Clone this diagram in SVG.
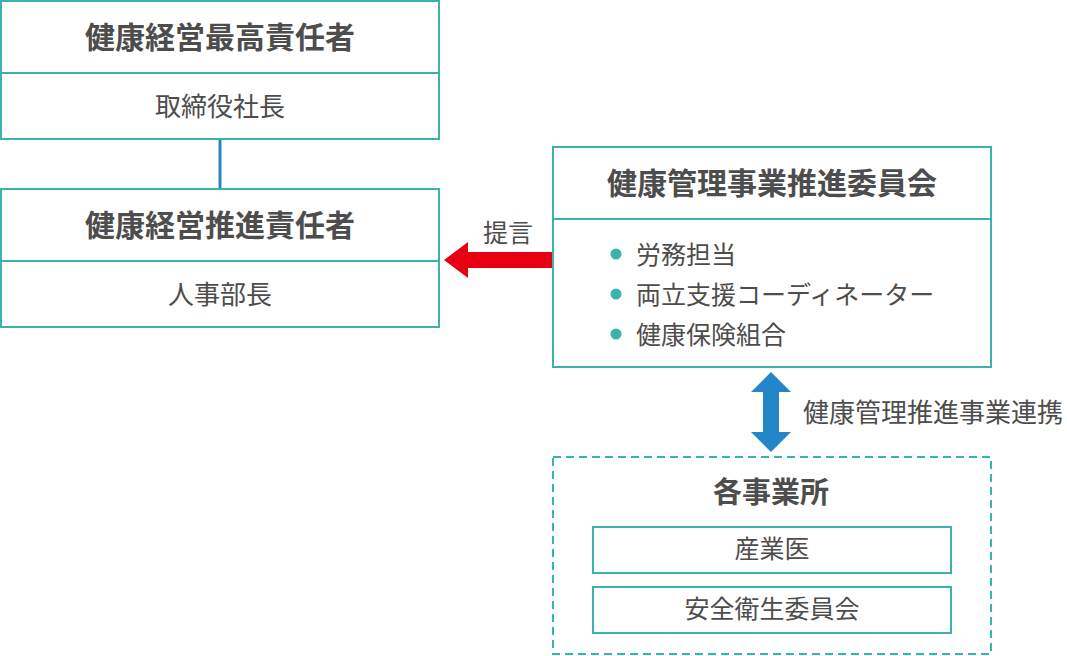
<svg xmlns="http://www.w3.org/2000/svg" width="1067" height="656" viewBox="0 0 1067 656">
<style>
  .box{fill:#fff;stroke:#3ab3aa;stroke-width:2}
  .dash{fill:none;stroke:#3ab3aa;stroke-width:2;stroke-dasharray:8 5}
  .div{stroke:#3ab3aa;stroke-width:2}
  text{font-family:"Noto Sans CJK JP","Noto Sans CJK SC",sans-serif;fill:#4d4d4d;text-anchor:middle}
  .t{font-size:30px;font-weight:bold}
  .s{font-size:26px}
  .b{font-size:25px;text-anchor:start}
  .dot{fill:#3ab3aa}
</style>
<rect width="1067" height="656" fill="#fff"/>
<g id="connectors">
  <line x1="220" y1="139" x2="220" y2="189" stroke="#2386c8" stroke-width="3"/>
  <polygon points="553,252 468,252 468,242 444,260 468,278 468,268 553,268" fill="#e60012"/>
  <polygon points="771,372 791,392 779,392 779,432 791,432 771,452 751,432 763,432 763,392 751,392" fill="#2386c8"/>
  <text class="s" x="508" y="242" style="font-size:25px">提言</text>
  <text class="s" x="803" y="422" style="text-anchor:start">健康管理推進事業連携</text>
</g>
<g id="node-ceo">
  <rect class="box" x="1" y="1" width="438" height="138"/>
  <line class="div" x1="1" y1="73" x2="439" y2="73"/>
  <text class="t" x="220" y="47.5">健康経営最高責任者</text>
  <text class="s" x="220" y="116">取締役社長</text>
</g>
<g id="node-promoter">
  <rect class="box" x="1" y="189" width="438" height="138"/>
  <line class="div" x1="1" y1="261" x2="439" y2="261"/>
  <text class="t" x="220" y="235.5">健康経営推進責任者</text>
  <text class="s" x="220" y="304">人事部長</text>
</g>
<g id="node-committee">
  <rect class="box" x="553" y="147" width="438" height="220"/>
  <line class="div" x1="553" y1="219" x2="991" y2="219"/>
  <text class="t" x="772" y="193.5">健康管理事業推進委員会</text>
  <circle class="dot" cx="616" cy="254" r="5.5"/>
  <circle class="dot" cx="616" cy="294" r="5.5"/>
  <circle class="dot" cx="616" cy="334" r="5.5"/>
  <text class="b" x="636" y="264">労務担当</text>
  <text class="b" x="636" y="304">両立支援コーディネーター</text>
  <text class="b" x="636" y="344">健康保険組合</text>
</g>
<g id="node-offices">
  <rect class="dash" x="553" y="457" width="438" height="197"/>
  <text class="t" x="771" y="503" style="font-size:29px">各事業所</text>
</g>
<g id="node-doctor">
  <rect class="box" x="593" y="527" width="358" height="46"/>
  <text class="s" x="772" y="558" style="font-size:25px">産業医</text>
</g>
<g id="node-safety">
  <rect class="box" x="593" y="587" width="358" height="46"/>
  <text class="s" x="772" y="618" style="font-size:25px">安全衛生委員会</text>
</g>
</svg>
